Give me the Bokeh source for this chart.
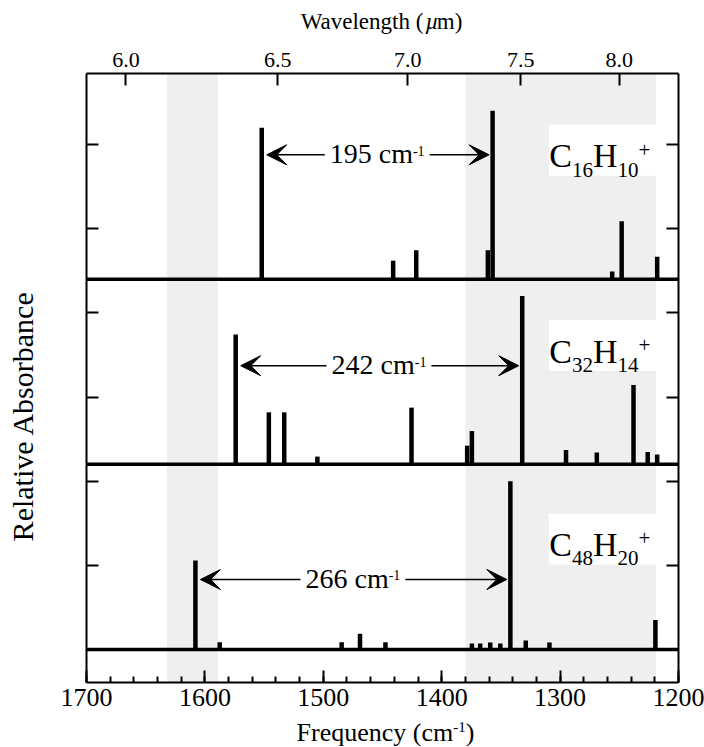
import math
from bokeh.plotting import figure
from bokeh.layouts import column, row
from bokeh.models import (Range1d, LinearAxis, FixedTicker, SingleIntervalTicker,
                          CustomJSTickFormatter, BoxAnnotation, Span, Label, Arrow,
                          VeeHead, ColumnDataSource)
from bokeh.embed import file_html
from bokeh.resources import INLINE

# ---------------- data ----------------
c16_freq = [1552, 1441, 1421.5, 1361, 1357, 1256, 1248, 1218]
c16_int = [0.90, 0.11, 0.172, 0.172, 1.0, 0.045, 0.344, 0.134]

c32_freq = [1574, 1546, 1533, 1505, 1425.5, 1378.5, 1374.5, 1332, 1295, 1269, 1238, 1226, 1218]
c32_int = [0.772, 0.309, 0.309, 0.046, 0.337, 0.111, 0.198, 1.0, 0.085, 0.071, 0.471, 0.073, 0.059]

c48_freq = [1608, 1587.5, 1484.5, 1469, 1447.5, 1374.5, 1367.5, 1359, 1350.5, 1342, 1329, 1309, 1219.5]
c48_int = [0.529, 0.043, 0.043, 0.093, 0.043, 0.036, 0.036, 0.042, 0.036, 1.0, 0.053, 0.042, 0.176]

species_main = [("C", "16", "H", "10"), ("C", "32", "H", "14"), ("C", "48", "H", "20")]
spacing_labels = ["195", "242", "266"]
pair_peaks = [(1552, 1357), (1574, 1332), (1608, 1342)]

bands = [(1632, 1589), (1380, 1219)]
wavelength_ticks = [6.0, 6.5, 7.0, 7.5, 8.0]

# ---------------- layout constants ----------------
X_HI, X_LO = 1700, 1200
Y_MIN, Y_MAX = -0.196, 3.422
offsets = [2.2, 1.1, 0.0]           # top, middle, bottom panels
arrow_rel = [0.739, 0.586, 0.416]
label_rel = [0.66, 0.60, 0.55]
FONT = "Liberation Serif"
FIX = 0.36                           # baseline correction (fraction of font size)

TOTAL_W, TOTAL_H = 704, 747
TOP_H, LEFT_W = 36, 46
MAIN_W = TOTAL_W - LEFT_W
ML, MR, MT, MB = 40, 26, 37, 35
FW = MAIN_W - ML - MR
MAIN_H = MT + (682 - 73) + MB
BOT_H = TOTAL_H - TOP_H - MAIN_H
PXX = FW / (X_HI - X_LO)            # px per cm-1

p = figure(width=MAIN_W, height=MAIN_H, output_backend="svg", toolbar_location=None,
           x_range=Range1d(X_HI, X_LO), y_range=Range1d(Y_MIN, Y_MAX),
           min_border_left=ML, min_border_right=MR, min_border_top=MT, min_border_bottom=MB)
p.outline_line_color = None
p.grid.visible = False
p.background_fill_color = "white"
p.border_fill_color = "white"


def blank(w, h):
    f = figure(width=w, height=h, output_backend="svg", toolbar_location=None,
               x_range=Range1d(0, w), y_range=Range1d(0, h), x_axis_type=None, y_axis_type=None,
               min_border_left=0, min_border_right=0, min_border_top=0, min_border_bottom=0)
    f.outline_line_color = None
    f.background_fill_color = "white"
    f.border_fill_color = "white"
    return f


# bands
for lo, hi in bands:
    p.add_layout(BoxAnnotation(left=lo, right=hi, fill_color="#efefef", fill_alpha=1.0,
                               line_color=None, level="underlay"))

# white boxes behind species labels
box_left = 1309.5
for off, lr in zip(offsets, label_rel):
    p.add_layout(BoxAnnotation(left=box_left, right=bands[1][1], bottom=off + lr - 0.045,
                               top=off + lr + 0.258, fill_color="white", fill_alpha=1.0,
                               line_color=None, level="underlay"))

# sticks
for off, fr, it in zip(offsets, [c16_freq, c32_freq, c48_freq], [c16_int, c32_int, c48_int]):
    src = ColumnDataSource(dict(x=fr, y0=[off] * len(fr), y1=[off + v for v in it]))
    p.segment(x0="x", y0="y0", x1="x", y1="y1", source=src, line_width=4.5,
              line_color="black", line_cap="butt")
    p.add_layout(Span(location=off, dimension="width", line_width=3.5, line_color="black"))

# axes
xa = p.xaxis[0]
xa.ticker = SingleIntervalTicker(interval=100, num_minor_ticks=5)
ya = p.yaxis[0]
ya.ticker = FixedTicker(ticks=[0, 0.5, 1.0, 1.5, 2.0, 2.5, 3.0])
ya.formatter = CustomJSTickFormatter(code="return ''")
ra = LinearAxis(ticker=FixedTicker(ticks=[0, 0.5, 1.0, 1.5, 2.0, 2.5, 3.0]),
                formatter=CustomJSTickFormatter(code="return ''"))
p.add_layout(ra, "right")
ta = LinearAxis(ticker=FixedTicker(ticks=[10000.0 / w for w in wavelength_ticks]),
                formatter=CustomJSTickFormatter(code="return (10000/tick).toFixed(1)"))
p.add_layout(ta, "above")

for ax in [xa, ya, ra, ta]:
    ax.axis_line_width = 2
    ax.axis_line_color = "black"
    ax.major_tick_in = 12
    ax.major_tick_out = 0
    ax.major_tick_line_width = 2
    ax.major_tick_line_color = "black"
    ax.minor_tick_in = 0
    ax.minor_tick_out = 0
    ax.major_label_text_font = FONT
    ax.major_label_text_color = "black"
    ax.major_label_standoff = 4
xa.minor_tick_in = 6
xa.minor_tick_line_width = 2
xa.minor_tick_line_color = "black"
xa.major_label_text_font_size = "26px"
xa.major_label_standoff = 6
ta.major_label_text_font_size = "22px"
ta.major_label_standoff = 7

# text helpers
CW = {"0": .5, "1": .5, "2": .5, "3": .5, "4": .5, "5": .5, "6": .5, "7": .5, "8": .5, "9": .5,
      " ": .25, "c": .444, "m": .778, "-": .333, "(": .333, ")": .333, "F": .556, "r": .333,
      "e": .444, "q": .5, "u": .5, "n": .5, "y": .5, "W": .944, "a": .444, "v": .5, "l": .278,
      "g": .5, "t": .278, "h": .5, "\u00b5": .5, "C": .667, "H": .722, "+": .564}


def tw(s, size):
    return sum(CW.get(ch, 0.5) for ch in s) * size


def rich(fig, parts, x, y, align="center", dx=0, dy=0):
    widths = [tw(t, s) for t, s, _, _ in parts]
    cx = -sum(widths) / 2 if align == "center" else 0
    for (t, s, up, st), w in zip(parts, widths):
        fig.add_layout(Label(x=x, y=y, text=t,
                             x_offset=dx + cx, y_offset=dy + up + FIX * s,
                             text_font=FONT, text_font_size=f"{s}px", text_font_style=st,
                             text_align="left", text_baseline="alphabetic", text_color="black"))
        cx += w


# species labels
for off, lr, (a, sa, b, sb) in zip(offsets, label_rel, species_main):
    rich(p, [(a, 34, 0, "normal"), (sa, 21, -9, "normal"), (b, 34, 0, "normal"),
             (sb, 21, -9, "normal"), ("+", 21, 11, "normal")],
         box_left - 0.5 / PXX, off + lr, align="left")

# spacing arrows
MAIN, SUP = 28, 14
for off, ar, lab, (fh, fl) in zip(offsets, arrow_rel, spacing_labels, pair_peaks):
    y = off + ar
    c = (fh + fl) / 2
    parts = [(lab + " cm", MAIN, -9, "normal"), ("-1", SUP, -9 + 8, "normal")]
    rich(p, parts, c, y, align="center")
    half = (tw(lab + " cm", MAIN) + tw("-1", SUP)) / 2 + 5
    p.add_layout(Arrow(x_start=c + half / PXX, y_start=y, x_end=fh - 5 / PXX, y_end=y,
                       line_width=1.5, line_color="black",
                       end=VeeHead(size=20, fill_color="black", line_color="black", line_width=1)))
    p.add_layout(Arrow(x_start=c - half / PXX, y_start=y, x_end=fl + 3.5 / PXX, y_end=y,
                       line_width=1.5, line_color="black",
                       end=VeeHead(size=20, fill_color="black", line_color="black", line_width=1)))

# title figures
top_fig = blank(TOTAL_W, TOP_H)
rich(top_fig, [("Wavelength (", 23, 0, "normal"), ("\u00b5", 23, 0, "italic"), ("m)", 23, 0, "normal")],
     381, TOP_H - 29)

bot_fig = blank(TOTAL_W, BOT_H)
rich(bot_fig, [("Frequency (cm", 26, 0, "normal"), ("-1", 15, 9, "normal"), (")", 26, 0, "normal")],
     385, TOTAL_H - 741)

left_fig = blank(LEFT_W, MAIN_H)
left_fig.add_layout(Label(x=33 - FIX * 30, y=TOP_H + MAIN_H - 419,
                          text="Relative Absorbance", angle=math.pi / 2, text_font=FONT,
                          text_font_size="30px", text_align="center", text_baseline="alphabetic",
                          text_color="black"))

layout = column(top_fig, row(left_fig, p), bot_fig)
open("out.html", "w").write(file_html(layout, INLINE))
